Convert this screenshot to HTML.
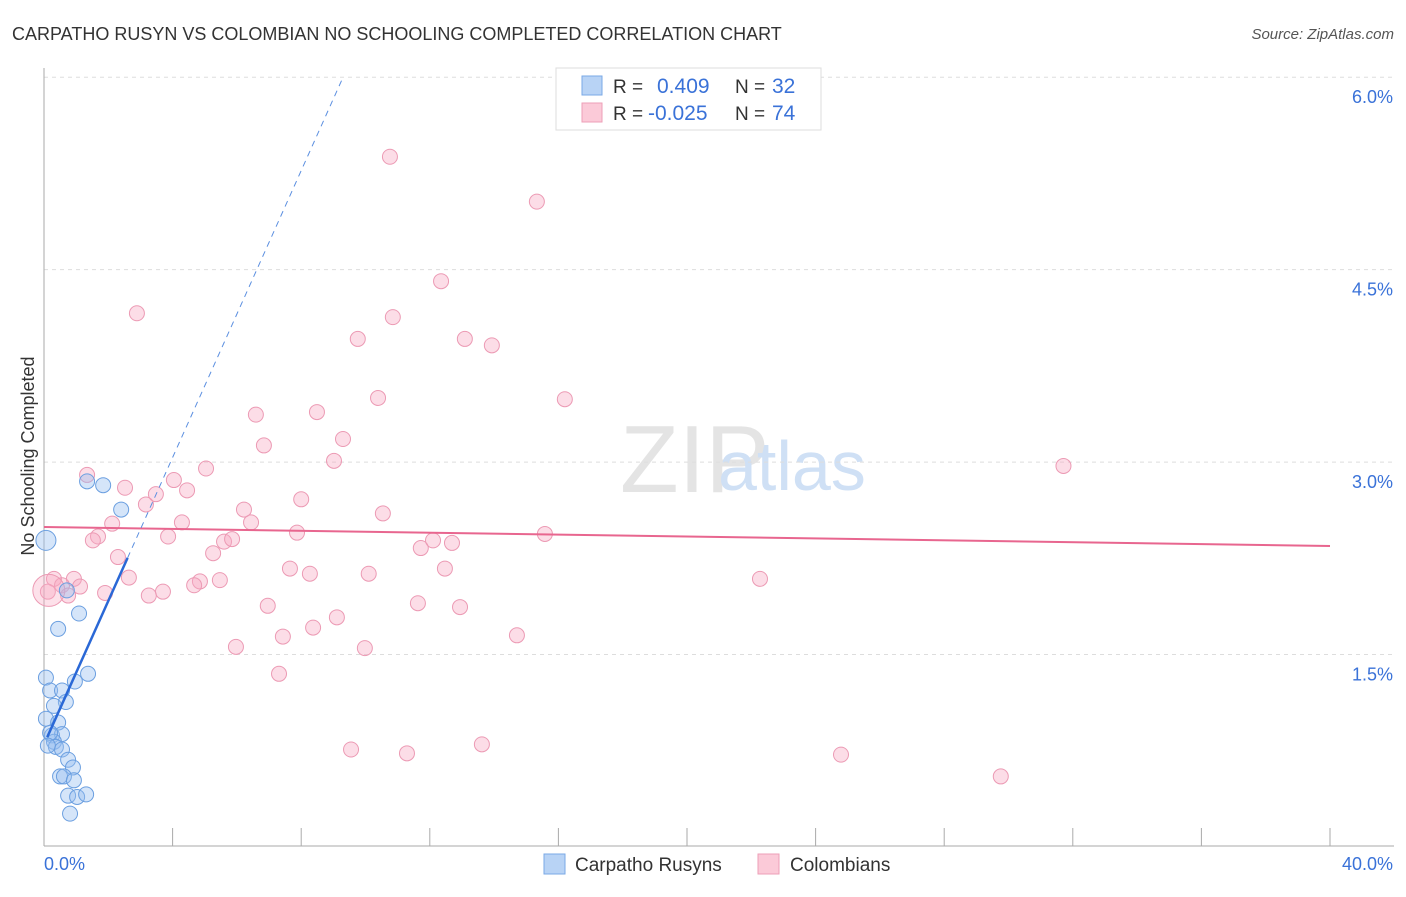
<!DOCTYPE html>
<html><head><meta charset="utf-8"><style>
body{margin:0;background:#fff;font-family:"Liberation Sans",sans-serif;}
svg text{font-family:"Liberation Sans",sans-serif;}
</style></head><body>
<svg id="c" width="1406" height="892" xmlns="http://www.w3.org/2000/svg">
<text x="12" y="40" font-size="18" fill="#333">CARPATHO RUSYN VS COLOMBIAN NO SCHOOLING COMPLETED CORRELATION CHART</text>
<text x="1394" y="39" font-size="15" fill="#555" text-anchor="end" font-style="italic">Source: ZipAtlas.com</text>
<text x="34" y="456" font-size="18" fill="#333" text-anchor="middle" transform="rotate(-90 34 456)">No Schooling Completed</text>
<text x="620" y="492" font-size="96" fill="#e4e4e4" font-family="Liberation Serif">ZIP</text>
<text x="718" y="490" font-size="70" fill="#cfe0f5">atlas</text>
<g id="grid"></g><g id="axes"></g><g id="pts"></g><g id="lines"></g>
<g>
<rect x="556" y="68" width="265" height="62" fill="#fff" stroke="#ddd"/>
<rect x="582" y="76" width="20" height="19" fill="#b8d3f5" stroke="#7aa8e6"/>
<rect x="582" y="103" width="20" height="19" fill="#fbcad8" stroke="#ee9fb7"/>
<text x="613" y="93" font-size="19" fill="#333">R = </text><text x="657" y="93" font-size="21" fill="#3a72d8">0.409</text>
<text x="735" y="93" font-size="19" fill="#333">N = </text><text x="772" y="93" font-size="21" fill="#3a72d8">32</text>
<text x="613" y="120" font-size="19" fill="#333">R = </text><text x="648" y="120" font-size="21" fill="#3a72d8">-0.025</text>
<text x="735" y="120" font-size="19" fill="#333">N = </text><text x="772" y="120" font-size="21" fill="#3a72d8">74</text>
</g>
<g>
<rect x="544" y="854" width="21" height="20" fill="#b8d3f5" stroke="#7aa8e6"/>
<text x="575" y="871" font-size="19" fill="#333">Carpatho Rusyns</text>
<rect x="758" y="854" width="21" height="20" fill="#fbcad8" stroke="#ee9fb7"/>
<text x="790" y="871" font-size="19" fill="#333">Colombians</text>
</g>
</svg>
<script>
const yTicks=[1.5,3.0,4.5,6.0];
const yTickLabels=["1.5%","3.0%","4.5%","6.0%"];
const xTickLabels=["0.0%","40.0%"];
const rusynX=[0.06,1.34,1.84,2.40,0.71,1.09,0.44,0.06,1.37,0.96,0.19,0.56,0.68,0.31,0.06,0.44,0.25,0.56,0.31,0.37,0.56,0.75,0.90,0.50,0.62,0.93,0.75,1.03,1.31,0.81,0.19,0.12];
const rusynY=[2.39,2.85,2.82,2.63,2.00,1.82,1.70,1.32,1.35,1.29,1.22,1.22,1.13,1.10,1.00,0.97,0.87,0.88,0.82,0.78,0.76,0.68,0.62,0.55,0.55,0.52,0.40,0.39,0.41,0.26,0.89,0.79];
const colX=[10.76,15.33,12.35,2.89,10.85,9.76,13.09,13.93,10.39,16.20,6.59,8.49,9.30,6.84,9.02,5.04,1.34,4.04,31.71,2.52,4.45,3.48,8.00,3.17,6.22,10.54,2.12,4.29,6.44,15.58,1.68,1.52,7.87,3.86,5.60,5.85,12.10,12.69,11.72,5.26,2.30,7.65,12.47,10.10,8.27,2.64,22.27,0.31,0.93,4.85,5.47,0.56,1.12,4.67,3.70,1.90,3.26,0.75,0.12,6.96,11.63,12.94,9.11,8.37,14.71,7.43,5.97,9.98,7.31,9.55,11.29,13.62,24.79,29.76];
const colY=[5.38,5.03,4.41,4.16,4.13,3.96,3.96,3.91,3.50,3.49,3.37,3.39,3.18,3.13,3.01,2.95,2.90,2.86,2.97,2.80,2.78,2.75,2.71,2.67,2.63,2.60,2.52,2.53,2.53,2.44,2.42,2.39,2.45,2.42,2.38,2.40,2.39,2.37,2.33,2.29,2.26,2.17,2.17,2.13,2.13,2.10,2.09,2.09,2.09,2.07,2.08,2.04,2.03,2.04,1.99,1.98,1.96,1.96,1.99,1.88,1.90,1.87,1.79,1.71,1.65,1.64,1.56,1.55,1.35,0.76,0.73,0.80,0.72,0.55];
const rusynTrend=[0.80,0.559];
const colTrend=[2.494,-0.0037];
const NS="http://www.w3.org/2000/svg";
const X=v=>44+v/40*1286, Y=v=>847-v*128.3;
function mk(t,a,p){const e=document.createElementNS(NS,t);for(const k in a)e.setAttribute(k,a[k]);p.appendChild(e);return e;}
const grid=document.getElementById('grid'),axes=document.getElementById('axes'),pts=document.getElementById('pts'),lines=document.getElementById('lines');
yTicks.forEach((v,i)=>{
 const l=mk('line',{x1:44,x2:1394,y1:Y(v),y2:Y(v),stroke:'#ddd','stroke-dasharray':'4,4'},grid);
 
 
 const t=mk('text',{x:1393,y:Y(v)+26,'font-size':18,fill:'#3a72d8','text-anchor':'end'},axes);
 t.textContent=yTickLabels[i];
 
 
});
const ax=mk('line',{x1:44,x2:44,y1:68,y2:846,stroke:'#aaa'},axes);


const bx=mk('line',{x1:44,x2:1394,y1:846,y2:846,stroke:'#aaa'},axes);


for(let i=0;i<=10;i++){const tk=mk('line',{x1:X(i*4),x2:X(i*4),y1:828,y2:846,stroke:'#aaa'},axes);
 
 }
[[0,'start',44],[40,'end',1393]].forEach((a,i)=>{const t=mk('text',{x:a[2],y:870,'font-size':18,fill:'#3a72d8','text-anchor':a[1]},axes);
 t.textContent=xTickLabels[i];
 
 });
colX.forEach((v,i)=>{const c=mk('circle',{cx:X(v),cy:Y(colY[i]),r:7.5,fill:'rgba(248,170,195,0.4)',stroke:'#ec9ab4','stroke-width':1},pts);
 
 });
const big=mk('circle',{cx:X(0.15),cy:Y(2.0),r:16,fill:'rgba(248,170,195,0.35)',stroke:'#ec9ab4'},pts);


rusynX.forEach((v,i)=>{const c=mk('circle',{cx:X(v),cy:Y(rusynY[i]),r:i==0?10:7.5,fill:'rgba(150,190,240,0.4)',stroke:'#6b9fe0','stroke-width':1},pts);
 
 });
const pl=mk('line',{x1:X(0),y1:Y(colTrend[0]),x2:X(40),y2:Y(colTrend[0]+colTrend[1]*40),stroke:'#e8668f','stroke-width':2},lines);


const bs=mk('line',{x1:X(0.1),y1:Y(rusynTrend[0]+rusynTrend[1]*0.1),x2:X(2.6),y2:Y(rusynTrend[0]+rusynTrend[1]*2.6),stroke:'#2a68d6','stroke-width':2.5},lines);


const xe=(6.0-rusynTrend[0])/rusynTrend[1];
const bd=mk('line',{x1:X(2.6),y1:Y(rusynTrend[0]+rusynTrend[1]*2.6),x2:X(xe),y2:Y(6.0),stroke:'#5b8fe0','stroke-width':1,'stroke-dasharray':'6,5'},lines);


</script>
</body></html>
